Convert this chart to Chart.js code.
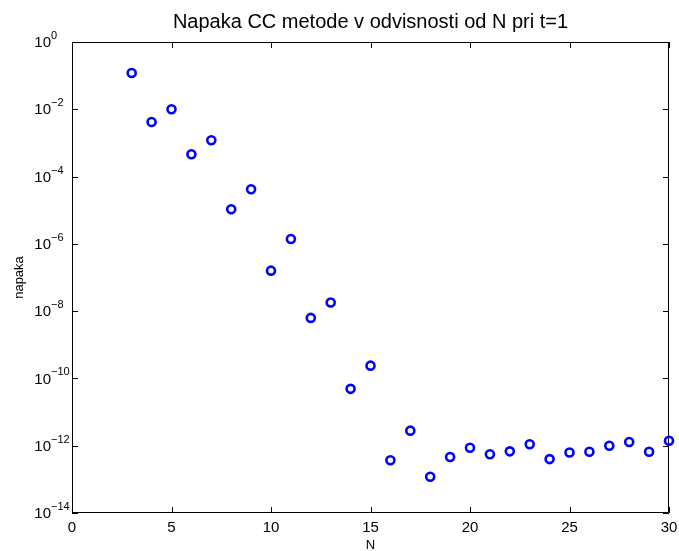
<!DOCTYPE html>
<html lang="sl">
<head>
<meta charset="UTF-8">
<title>Napaka CC metode</title>
<script src="https://cdn.jsdelivr.net/npm/chart.js"></script>
<style>
  html, body { margin: 0; padding: 0; background: #fff; }
  canvas { display: block; }
</style>
</head>
<body>
<canvas id="napakaChart" width="679" height="551"></canvas>
<script>
// podatki
const nValues = [3, 4, 5, 6, 7, 8, 9, 10, 11, 12, 13, 14, 15, 16, 17, 18,
                 19, 20, 21, 22, 23, 24, 25, 26, 27, 28, 29, 30];
const napaka = [1.2e-1, 4.2e-3, 1.0e-2, 4.6e-4, 1.2e-3, 1.07e-5, 4.2e-5, 1.6e-7,
                1.4e-6, 6.3e-9, 1.8e-8, 4.9e-11, 2.4e-10, 3.7e-13, 2.8e-12, 1.2e-13,
                4.6e-13, 8.7e-13, 5.6e-13, 6.8e-13, 1.1e-12, 4.0e-13, 6.3e-13, 6.6e-13,
                1.0e-12, 1.29e-12, 6.6e-13, 1.4e-12];
const xTicks = [0, 5, 10, 15, 20, 25, 30];
const yExponents = [0, -2, -4, -6, -8, -10, -12, -14];

const titleText = 'Napaka CC metode v odvisnosti od N pri t=1';
const xLabel = 'N';
const yLabel = 'napaka';
const FONT = 'Liberation Sans, Arial, Helvetica, sans-serif';

// okvir, kljukice in napisi v stilu matlaba
const matlabAxes = {
    id: 'matlabAxes',
    beforeDatasetsDraw(chart) {
        const ctx = chart.ctx;
        const a = chart.chartArea;
        const xs = chart.scales.x, ys = chart.scales.y;
        ctx.save();
        ctx.strokeStyle = '#000';
        ctx.lineWidth = 1;
        ctx.beginPath();
        ctx.rect(a.left + 0.5, a.top + 0.5, a.right - a.left - 1, a.bottom - a.top - 1);
        const tl = 6;
        xTicks.forEach(t => {
            const px = Math.round(xs.getPixelForValue(t)) + 0.5;
            ctx.moveTo(px, a.bottom); ctx.lineTo(px, a.bottom - tl);
            ctx.moveTo(px, a.top); ctx.lineTo(px, a.top + tl);
        });
        yExponents.forEach(e => {
            const py = Math.round(ys.getPixelForValue(Math.pow(10, e))) + 0.5;
            ctx.moveTo(a.left, py); ctx.lineTo(a.left + tl, py);
            ctx.moveTo(a.right, py); ctx.lineTo(a.right - tl, py);
        });
        ctx.stroke();
        ctx.restore();
    },
    afterDraw(chart) {
        const ctx = chart.ctx;
        const a = chart.chartArea;
        const xs = chart.scales.x, ys = chart.scales.y;
        ctx.save();
        ctx.fillStyle = '#000';

        // naslov
        ctx.font = '20px ' + FONT;
        ctx.textAlign = 'center';
        ctx.textBaseline = 'alphabetic';
        ctx.fillText(titleText, (a.left + a.right) / 2, 28);

        // x oznake
        ctx.font = '15px ' + FONT;
        xTicks.forEach(t => {
            ctx.fillText(String(t), xs.getPixelForValue(t), a.bottom + 19);
        });

        // y oznake 10^e
        yExponents.forEach(e => {
            const py = ys.getPixelForValue(Math.pow(10, e));
            ctx.font = '15px ' + FONT;
            ctx.textAlign = 'right';
            ctx.textBaseline = 'middle';
            ctx.fillText('10', 51, py + 1);
            ctx.font = '11px ' + FONT;
            ctx.textAlign = 'left';
            ctx.textBaseline = 'alphabetic';
            const exp = e === 0 ? '0' : '\u2212' + String(-e);
            ctx.fillText(exp, 51, py - 3);
        });

        // osi
        ctx.font = '13px ' + FONT;
        ctx.textAlign = 'center';
        ctx.textBaseline = 'alphabetic';
        ctx.fillText(xLabel, (a.left + a.right) / 2, 549);

        ctx.translate(23, (a.top + a.bottom) / 2);
        ctx.rotate(-Math.PI / 2);
        ctx.fillText(yLabel, 0, 0);
        ctx.restore();
    }
};

const ctx = document.getElementById('napakaChart').getContext('2d');
new Chart(ctx, {
    type: 'scatter',
    data: {
        datasets: [{
            label: 'napaka',
            data: nValues.map((n, i) => ({ x: n, y: napaka[i] })),
            pointStyle: 'circle',
            pointRadius: 4,
            pointHoverRadius: 4,
            borderWidth: 2.6,
            borderColor: '#0000ff',
            backgroundColor: 'rgba(0,0,0,0)',
            clip: false
        }]
    },
    options: {
        responsive: false,
        animation: false,
        events: [],
        layout: { padding: { left: 72, top: 42, right: 10, bottom: 38 } },
        plugins: {
            legend: { display: false },
            title: { display: false },
            tooltip: { enabled: false }
        },
        scales: {
            x: { type: 'linear', min: 0, max: 30, display: false },
            y: { type: 'logarithmic', min: 1e-14, max: 1, display: false }
        }
    },
    plugins: [matlabAxes]
});
</script>
</body>
</html>
